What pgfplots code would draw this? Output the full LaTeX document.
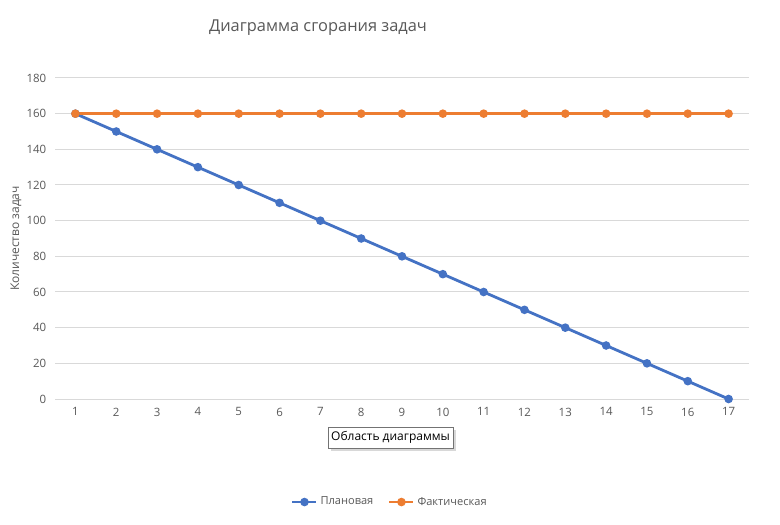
\documentclass[border=0pt]{standalone}
\usepackage{pgfplots}
\pgfplotsset{compat=1.18}
\usepackage{fontspec}
\setmainfont{Open Sans}
\usetikzlibrary{shadows}
\definecolor{planblue}{HTML}{4472C4}
\definecolor{factorange}{HTML}{ED7D31}
\definecolor{gridgray}{HTML}{D9D9D9}
\definecolor{textgray}{HTML}{595959}

\begin{document}
\begin{tikzpicture}
\path[fill=white,use as bounding box] (0,0) rectangle (585pt,393pt);
\begin{axis}[
  at={(41.25pt,93.75pt)}, anchor=south west,
  scale only axis,
  width=520.5pt, height=240.75pt,
  xmin=0.5, xmax=17.5,
  ymin=0, ymax=180,
  xtick={1,...,17},
  ytick={0,20,...,180},
  axis line style={draw=none},
  ymajorgrids,
  grid style={gridgray, line width=0.75pt},
  major tick length=0pt,
  tick label style={font=\fontsize{8.6}{10}\selectfont, text=textgray},
  /pgf/number format/assume math mode=true,
  yticklabel style={xshift=-3pt},
  xticklabel style={yshift=-3pt},
  legend columns=2,
  legend style={draw=none, fill=none, at={(0.483,-0.321)}, anchor=center,
    font=\fontsize{8.3}{10}\selectfont, text=textgray,
    /tikz/every even column/.append style={column sep=9pt}},
  legend cell align=left,
  legend image code/.code={%
    \draw[mark repeat=2, mark phase=2] plot coordinates {(0pt,0pt) (9pt,0pt) (18pt,0pt)};},
]
% Plan
\addplot[planblue, line width=2.1pt, mark=*, mark size=2.1pt] coordinates {
  (1,160) (2,150) (3,140) (4,130) (5,120) (6,110) (7,100) (8,90) (9,80)
  (10,70) (11,60) (12,50) (13,40) (14,30) (15,20) (16,10) (17,0)
};
\addlegendentry{Плановая}
% Actual
\addplot[factorange, line width=2.1pt, mark=*, mark size=2.1pt] coordinates {
  (1,160) (2,160) (3,160) (4,160) (5,160) (6,160) (7,160) (8,160) (9,160)
  (10,160) (11,160) (12,160) (13,160) (14,160) (15,160) (16,160) (17,160)
};
\addlegendentry{Фактическая}
\end{axis}
\node[text=textgray, font=\fontsize{12.3}{14}\selectfont] at (238.5pt,372pt) {Диаграмма сгорания задач};
\node[text=textgray, font=\fontsize{9}{11}\selectfont, rotate=90] at (12pt,214.1pt) {Количество задач};
\node[draw=black!55, fill=white, line width=0.6pt,
      drop shadow={shadow xshift=2.5pt, shadow yshift=-2.5pt, opacity=0.3},
      minimum width=93.75pt, minimum height=15.75pt, inner sep=0pt,
      font=\fontsize{9}{11}\selectfont]
  at (292.9pt,64.9pt) {Область диаграммы};
\end{tikzpicture}
\end{document}
